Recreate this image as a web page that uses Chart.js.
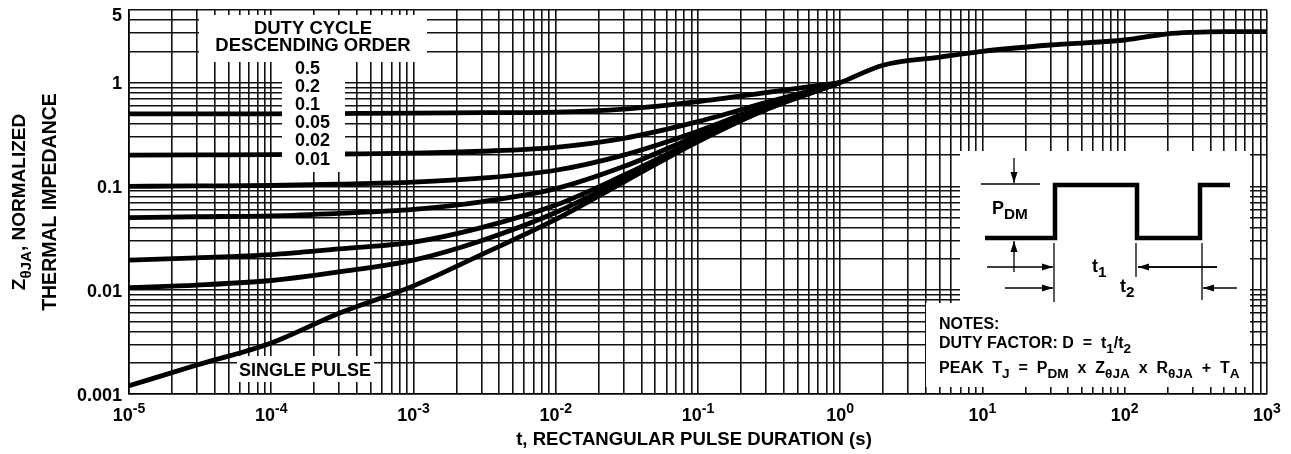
<!DOCTYPE html>
<html>
<head>
<meta charset="utf-8">
<script src="https://cdn.jsdelivr.net/npm/chart.js@4.4.0/dist/chart.umd.min.js"></script>
<style>
  html, body { margin: 0; padding: 0; background: #fff; }
  #wrap { width: 1291px; height: 454px; }
</style>
</head>
<body>
<div id="wrap"><canvas id="zthChart" width="1291" height="454"></canvas></div>
<script>
const pulseTimes = [1e-5, 3e-5, 1e-4, 3e-4, 1e-3, 3e-3, 1e-2, 3e-2, 1e-1, 3e-1, 1];

// normalized Z(theta JA) per duty cycle
const duty050 = [0.50, 0.50, 0.50, 0.503, 0.507, 0.513, 0.52, 0.555, 0.655, 0.80, 1.0];
const duty020 = [0.200, 0.201, 0.202, 0.205, 0.209, 0.218, 0.238, 0.29, 0.42, 0.64, 1.0];
const duty010 = [0.100, 0.101, 0.102, 0.105, 0.110, 0.120, 0.143, 0.20, 0.34, 0.60, 1.0];
const duty005 = [0.050, 0.051, 0.052, 0.055, 0.060, 0.071, 0.095, 0.155, 0.31, 0.57, 1.0];
const duty002 = [0.0195, 0.0205, 0.022, 0.025, 0.029, 0.040, 0.066, 0.128, 0.285, 0.56, 1.0];
const duty001 = [0.0106, 0.0112, 0.0124, 0.0150, 0.0195, 0.030, 0.056, 0.118, 0.275, 0.55, 1.0];
const singlePulse = [0.0012, 0.0019, 0.0031, 0.006, 0.011, 0.022, 0.048, 0.11, 0.27, 0.55, 1.0];

// above 1 s every curve runs together
const tailTimes = [2, 5, 10, 30, 100, 200, 300, 500, 1000];
const tailZ = [1.47, 1.76, 2.0, 2.3, 2.57, 2.95, 3.05, 3.1, 3.1];

// labelled ticks
const yTickLabels = [5, 1, 0.1, 0.01, 0.001];
const xTickExponents = [-5, -4, -3, -2, -1, 0, 1, 2, 3];
const dutyLabels = ['0.5', '0.2', '0.1', '0.05', '0.02', '0.01'];

// log grid: 1..9 in every decade
const xGrid = [];
for (let e = -5; e < 3; e++) for (let m = 1; m < 10; m++) xGrid.push(+(m + 'e' + e));
xGrid.push(1000);
const yGrid = [];
for (let e = -3; e < 0; e++) for (let m = 1; m < 10; m++) yGrid.push(+(m + 'e' + e));
yGrid.push(1, 2, 3, 4, 5);

const toPoints = (xs, ys) => xs.map((x, i) => ({ x: x, y: ys[i] }));

const FAMILY = "'Liberation Sans', Arial, Helvetica, sans-serif";
const fontOf = size => 'bold ' + size + 'px ' + FAMILY;

// text in runs: [text, kind] with kind undefined | 'sub' | 'sup'
function runsWidth(ctx, runs, size, small) {
    let w = 0;
    for (const [txt, kind] of runs) {
        ctx.font = fontOf(kind ? size * small : size);
        w += ctx.measureText(txt).width;
    }
    return w;
}

function drawRuns(ctx, runs, x, y, size, align, small = 0.72) {
    const w = runsWidth(ctx, runs, size, small);
    let cx = align === 'center' ? x - w / 2 : align === 'right' ? x - w : x;
    ctx.textAlign = 'left';
    ctx.textBaseline = 'alphabetic';
    for (const [txt, kind] of runs) {
        ctx.font = fontOf(kind ? size * small : size);
        let dy = 0;
        if (kind === 'sub') dy = size * 0.3;
        if (kind === 'sup') dy = -size * 0.42;
        ctx.fillText(txt, cx, y + dy);
        cx += ctx.measureText(txt).width;
    }
}

function line(ctx, pts, width) {
    ctx.lineWidth = width;
    ctx.beginPath();
    ctx.moveTo(pts[0][0], pts[0][1]);
    for (let i = 1; i < pts.length; i++) ctx.lineTo(pts[i][0], pts[i][1]);
    ctx.stroke();
}

function arrow(ctx, x1, y1, x2, y2) {
    line(ctx, [[x1, y1], [x2, y2]], 1.3);
    const a = Math.atan2(y2 - y1, x2 - x1);
    const len = 11, half = 3.5;
    ctx.beginPath();
    ctx.moveTo(x2, y2);
    ctx.lineTo(x2 - len * Math.cos(a) + half * Math.sin(a), y2 - len * Math.sin(a) - half * Math.cos(a));
    ctx.lineTo(x2 - len * Math.cos(a) - half * Math.sin(a), y2 - len * Math.sin(a) + half * Math.cos(a));
    ctx.closePath();
    ctx.fill();
}

const decor = {
    id: 'decor',
    afterDatasetsDraw(chart) {
        const ctx = chart.ctx;
        const xs = chart.scales.x;
        const ys = chart.scales.y;
        const area = chart.chartArea;
        ctx.save();

        // white label panels over the grid
        ctx.fillStyle = '#fff';
        ctx.fillRect(199, 15, 228, 47);      // duty cycle heading
        ctx.fillRect(282, 62, 63, 110);      // duty values
        ctx.fillRect(237, 356, 137, 26);     // single pulse
        ctx.fillRect(960, 151, 290, 153);    // waveform inset
        ctx.fillRect(926, 303, 324, 84);     // notes

        ctx.fillStyle = '#000';
        ctx.strokeStyle = '#000';

        // tick labels
        yTickLabels.forEach(v => {
            const dy = v === 5 ? 10.5 : 6.5;
            drawRuns(ctx, [[String(v)]], area.left - 7, ys.getPixelForValue(v) + dy, 18, 'right');
        });
        xTickExponents.forEach(e => {
            const px = xs.getPixelForValue(Math.pow(10, e));
            drawRuns(ctx, [['10'], [String(e), 'sup']], px, area.bottom + 27, 18, 'center', 0.78);
        });

        // axis titles
        const midX = (area.left + area.right) / 2;
        drawRuns(ctx, [['t, RECTANGULAR PULSE DURATION (s)']], midX - 4, area.bottom + 51, 18.6, 'center');
        const midY = (area.top + area.bottom) / 2;
        ctx.save();
        ctx.translate(25, midY);
        ctx.rotate(-Math.PI / 2);
        drawRuns(ctx, [['Z'], ['\u03B8JA', 'sub'], [', NORMALIZED']], 0, 0, 19, 'center', 0.8);
        ctx.restore();
        ctx.save();
        ctx.translate(56, midY);
        ctx.rotate(-Math.PI / 2);
        drawRuns(ctx, [['THERMAL IMPEDANCE']], 0, 0, 19.5, 'center');
        ctx.restore();

        // duty cycle legend text
        drawRuns(ctx, [['DUTY CYCLE']], 313, 33.5, 18.5, 'center');
        drawRuns(ctx, [['DESCENDING ORDER']], 313, 50.5, 18.5, 'center');
        dutyLabels.forEach((t, i) => {
            drawRuns(ctx, [[t]], 295, 73.5 + i * 18.2, 18, 'left');
        });
        drawRuns(ctx, [['SINGLE PULSE']], 305, 375.5, 18, 'center');

        // pulse train inset
        ctx.lineJoin = 'miter';
        line(ctx, [[985, 238], [1055, 238], [1055, 185], [1137, 185], [1137, 238],
                   [1200, 238], [1200, 185], [1230, 185]], 4.5);
        line(ctx, [[981, 184], [1040, 184]], 1.3);
        arrow(ctx, 1014, 158, 1014, 183);
        arrow(ctx, 1014, 272, 1014, 241);
        line(ctx, [[1054, 243], [1054, 302]], 1.3);
        line(ctx, [[1136, 243], [1136, 277]], 1.3);
        line(ctx, [[1202, 243], [1202, 300]], 1.3);
        line(ctx, [[1138, 267], [1217, 267]], 1.3);
        arrow(ctx, 987, 267, 1053, 267);
        arrow(ctx, 1217, 267, 1138, 267);
        arrow(ctx, 1005, 288, 1053, 288);
        arrow(ctx, 1237, 288, 1203, 288);
        drawRuns(ctx, [['P'], ['DM', 'sub']], 992, 214, 18, 'left', 0.85);
        drawRuns(ctx, [['t'], ['1', 'sub']], 1092, 272, 18, 'left', 0.85);
        drawRuns(ctx, [['t'], ['2', 'sub']], 1120, 292, 18, 'left', 0.85);

        // notes
        drawRuns(ctx, [['NOTES:']], 939, 328.5, 16, 'left');
        drawRuns(ctx, [['DUTY FACTOR: D  =  t'], ['1', 'sub'], ['/t'], ['2', 'sub']], 939, 348, 16, 'left', 0.85);
        drawRuns(ctx, [['PEAK  T'], ['J', 'sub'], ['  =  P'], ['DM', 'sub'], ['  x  Z'], ['\u03B8JA', 'sub'],
                       ['  x  R'], ['\u03B8JA', 'sub'], ['  +  T'], ['A', 'sub']], 939, 373, 16, 'left', 0.85);

        ctx.restore();
    }
};

const curve = data => ({
    data: data,
    borderColor: '#000',
    borderWidth: 4.8,
    pointRadius: 0,
    fill: false,
    cubicInterpolationMode: 'monotone'
});

new Chart(document.getElementById('zthChart'), {
    type: 'line',
    data: {
        datasets: [
            curve(toPoints(pulseTimes, duty050)),
            curve(toPoints(pulseTimes, duty020)),
            curve(toPoints(pulseTimes, duty010)),
            curve(toPoints(pulseTimes, duty005)),
            curve(toPoints(pulseTimes, duty002)),
            curve(toPoints(pulseTimes, duty001)),
            curve(toPoints(pulseTimes.concat(tailTimes), singlePulse.concat(tailZ)))
        ]
    },
    options: {
        responsive: false,
        animation: false,
        devicePixelRatio: 1,
        layout: { padding: { top: 10, right: 24, bottom: 0, left: 0 } },
        plugins: {
            legend: { display: false },
            tooltip: { enabled: false }
        },
        scales: {
            x: {
                type: 'logarithmic',
                min: 1e-5,
                max: 1e3,
                afterBuildTicks: s => { s.ticks = xGrid.map(v => ({ value: v })); },
                afterFit: s => { s.height = 60; },
                ticks: { display: false },
                grid: { color: '#111', lineWidth: 1.6, drawTicks: false },
                border: { color: '#000', width: 1.6 }
            },
            y: {
                type: 'logarithmic',
                min: 0.001,
                max: 5,
                afterBuildTicks: s => { s.ticks = yGrid.map(v => ({ value: v })); },
                afterFit: s => { s.width = 129; },
                ticks: { display: false },
                grid: { color: '#111', lineWidth: 1.6, drawTicks: false },
                border: { color: '#000', width: 1.6 }
            }
        }
    },
    plugins: [decor]
});
</script>
</body>
</html>
